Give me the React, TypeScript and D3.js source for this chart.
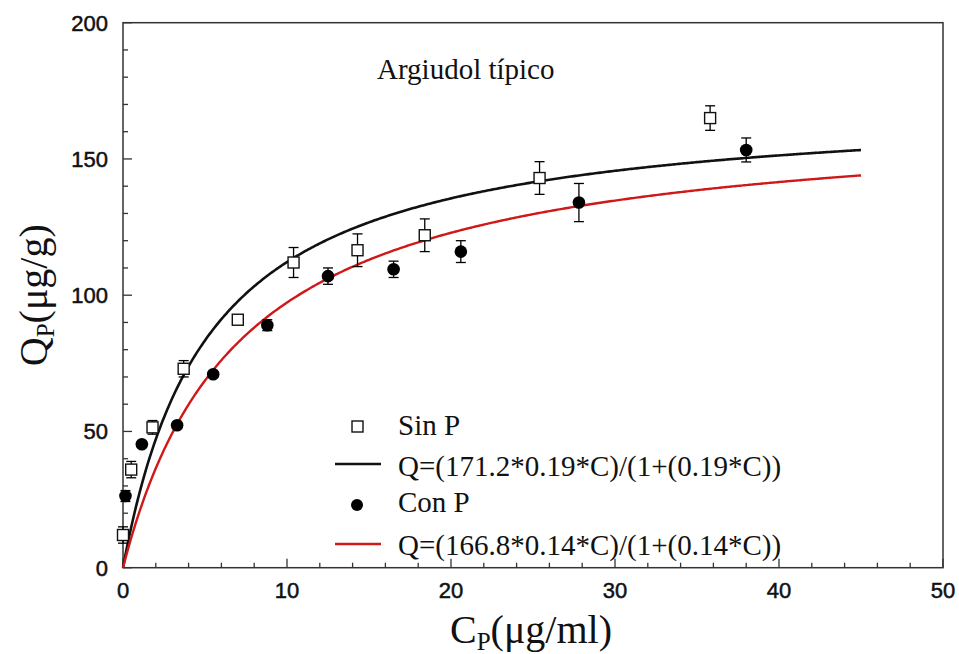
import React from "react";
import * as d3 from "d3";

// Sin P measurements
const sinC = [0.0, 0.5, 1.8, 3.7, 7.0, 10.4, 14.3, 18.4, 25.4, 35.8];
const sinQ = [12, 36, 51.5, 73, 91, 112, 116.5, 122, 143, 165];
const sinErr = [3, 3, 2.5, 3, 1.5, 5.5, 6, 6, 6, 4.5];

// Con P measurements
const conC = [0.15, 1.15, 3.3, 5.5, 8.8, 12.5, 16.5, 20.6, 27.8, 38.0];
const conQ = [26.3, 45.3, 52.3, 71, 89, 107, 109.5, 116, 134, 153.3];
const conErr = [2, 1, 1, 1, 2, 3, 3, 4, 7, 4.4];

// Langmuir fits
const sinFit = { qmax: 171.2, k: 0.19 };
const conFit = { qmax: 166.8, k: 0.14 };

const xTicks = [0, 10, 20, 30, 40, 50];
const yTicks = [0, 50, 100, 150, 200];

const W = 959;
const H = 654;
const left = 123;
const right = 943;
const top = 22.7;
const bottom = 567.7;

export default function App() {
  const x = d3.scaleLinear().domain([0, 50]).range([left, right]);
  const y = d3.scaleLinear().domain([0, 200]).range([bottom, top]);

  const fitLine = (f: { qmax: number; k: number }) => {
    const pts = d3.range(0, 45.0001, 0.1).map((c) => [c, (f.qmax * f.k * c) / (1 + f.k * c)] as [number, number]);
    return d3
      .line<[number, number]>()
      .x((d) => x(d[0]))
      .y((d) => y(d[1]))(pts) as string;
  };

  const xMinor = d3.range(0, 50.001, 2);
  const yMinor = d3.range(0, 200.001, 10);
  const sansFont = "'Liberation Sans', Arial, sans-serif";
  const serifFont = "'Liberation Serif', 'Times New Roman', serif";

  const errBar = (cx: number, q: number, e: number, key: string) => (
    <g key={key} stroke="#000" strokeWidth={1.3}>
      <line x1={x(cx)} x2={x(cx)} y1={y(q - e)} y2={y(q + e)} />
      <line x1={x(cx) - 5} x2={x(cx) + 5} y1={y(q + e)} y2={y(q + e)} />
      <line x1={x(cx) - 5} x2={x(cx) + 5} y1={y(q - e)} y2={y(q - e)} />
    </g>
  );

  const tickText = { fontFamily: sansFont, fontSize: 22, fill: "#111", stroke: "#111", strokeWidth: 0.5 };

  return (
    <div style={{ position: "fixed", left: 0, top: 0 }}>
      <svg width={W} height={H} style={{ display: "block", background: "#fff" }}>
        {/* frame */}
        <rect x={left} y={top} width={right - left} height={bottom - top} fill="none" stroke="#333" strokeWidth={1.5} />

        {/* x ticks */}
        {xMinor.map((v) => (
          <line key={"xm" + v} x1={x(v)} x2={x(v)} y1={bottom} y2={bottom - (v % 10 === 0 ? 9 : 5)} stroke="#333" strokeWidth={1.3} />
        ))}
        {xTicks.map((v) => (
          <text key={"xt" + v} x={x(v)} y={bottom + 30} textAnchor="middle" {...tickText}>
            {v}
          </text>
        ))}

        {/* y ticks */}
        {yMinor.map((v) => (
          <line key={"ym" + v} x1={left} x2={left + (v % 50 === 0 ? 9 : 5)} y1={y(v)} y2={y(v)} stroke="#333" strokeWidth={1.3} />
        ))}
        {yTicks.map((v) => (
          <text key={"yt" + v} x={left - 15} y={y(v) + 8} textAnchor="end" {...tickText}>
            {v}
          </text>
        ))}

        {/* axis titles */}
        <text x={531} y={643} textAnchor="middle" fontFamily={serifFont} fontSize={40} fill="#111">
          C<tspan fontSize={25} dy={7}>P</tspan>
          <tspan dy={-7}>(μg/ml)</tspan>
        </text>
        <text transform={`translate(47,${(top + bottom) / 2}) rotate(-90)`} textAnchor="middle" fontFamily={serifFont} fontSize={40} fill="#111">
          Q<tspan fontSize={25} dy={7}>P</tspan>
          <tspan dy={-7}>(μg/g)</tspan>
        </text>

        <text x={377} y={79} fontFamily={serifFont} fontSize={29} fill="#111">
          Argiudol típico
        </text>

        {/* fitted curves */}
        <path d={fitLine(sinFit)} fill="none" stroke="#111" strokeWidth={2.6} />
        <path d={fitLine(conFit)} fill="none" stroke="#d01818" strokeWidth={2.4} />

        {/* error bars */}
        {sinC.map((c, i) => errBar(c, sinQ[i], sinErr[i], "se" + i))}
        {conC.map((c, i) => errBar(c, conQ[i], conErr[i], "ce" + i))}

        {/* markers */}
        {sinC.map((c, i) => (
          <rect key={"s" + i} x={x(c) - 5.5} y={y(sinQ[i]) - 5.5} width={11} height={11} fill="#fff" stroke="#111" strokeWidth={1.4} />
        ))}
        {conC.map((c, i) => (
          <circle key={"c" + i} cx={x(c)} cy={y(conQ[i])} r={6.3} fill="#000" />
        ))}

        {/* legend */}
        <rect x={352} y={421} width={11} height={11} fill="#fff" stroke="#111" strokeWidth={1.4} />
        <text x={398} y={435} fontFamily={serifFont} fontSize={29} fill="#111">Sin P</text>
        <line x1={335} x2={381} y1={464} y2={464} stroke="#111" strokeWidth={2.6} />
        <text x={398} y={476} fontFamily={serifFont} fontSize={29} fill="#111">
          Q=(171.2*0.19*C)/(1+(0.19*C))
        </text>
        <circle cx={357} cy={505} r={6} fill="#000" />
        <text x={398} y={512} fontFamily={serifFont} fontSize={29} fill="#111">Con P</text>
        <line x1={335} x2={381} y1={544} y2={544} stroke="#d01818" strokeWidth={2.4} />
        <text x={398} y={555} fontFamily={serifFont} fontSize={29} fill="#111">
          Q=(166.8*0.14*C)/(1+(0.14*C))
        </text>
      </svg>
    </div>
  );
}
